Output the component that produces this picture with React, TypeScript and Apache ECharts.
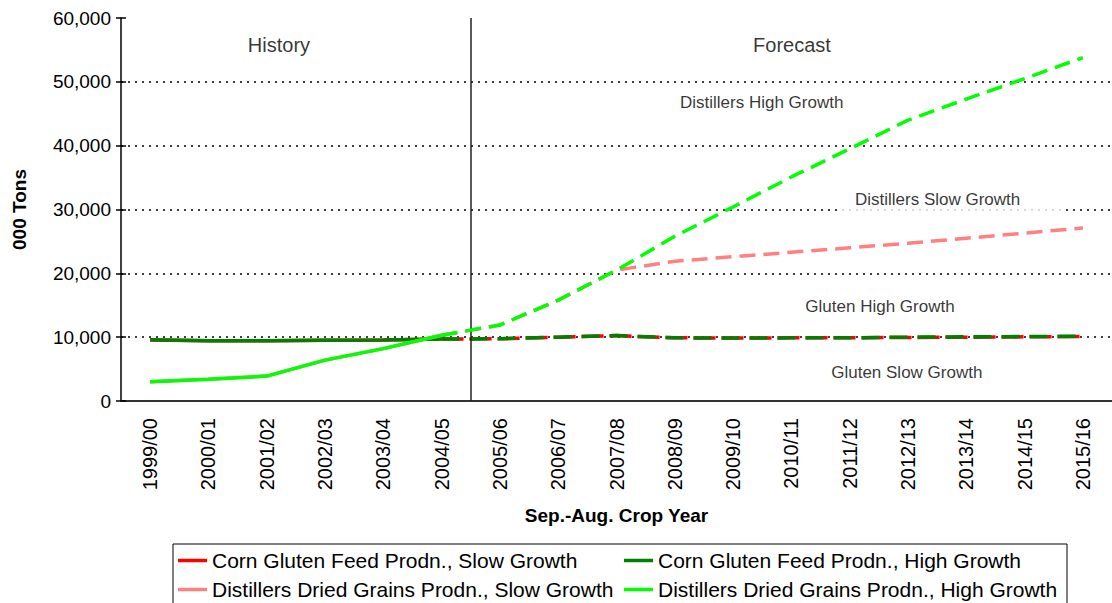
import React, { useEffect, useRef } from "react";
import * as echarts from "echarts";

const categories = [
  "1999/00", "2000/01", "2001/02", "2002/03", "2003/04", "2004/05",
  "2005/06", "2006/07", "2007/08", "2008/09", "2009/10", "2010/11",
  "2011/12", "2012/13", "2013/14", "2014/15", "2015/16",
];

// History: 1999/00 .. 2004/05
const cornSlowHistory = [9550, 9450, 9450, 9500, 9550, 9700];
const cornHighHistory = [9600, 9450, 9450, 9500, 9550, 9700];
const ddgSlowHistory = [3000, 3400, 3900, 6400, 8200, 10300];
const ddgHighHistory = [3000, 3400, 3900, 6400, 8200, 10300];

// Forecast: 2004/05 .. 2015/16
const cornSlowForecast = [9700, 9750, 10000, 10250, 9900, 9850, 9900, 9900, 9950, 10000, 10050, 10100];
const cornHighForecast = [9700, 9750, 10000, 10250, 9900, 9850, 9900, 9900, 10000, 10050, 10100, 10150];
const ddgSlowForecast = [10300, 11900, 15800, 20500, 21900, 22600, 23300, 24000, 24700, 25500, 26300, 27100];
const ddgHighForecast = [10300, 11900, 15800, 20500, 25800, 30400, 35100, 39500, 44000, 47300, 50500, 53800];

const seriesNames = [
  "Corn Gluten Feed Prodn., Slow Growth",
  "Corn Gluten Feed Prodn., High Growth",
  "Distillers Dried Grains Prodn., Slow Growth",
  "Distillers Dried Grains Prodn., High Growth",
];
const seriesColors = ["#FF0000", "#008000", "#FF8080", "#00FF00"];

const yTicks = [0, 10000, 20000, 30000, 40000, 50000, 60000];

// annotations: [category index position, value, text]
const annotations: [number, number, string][] = [
  [2.21, 55700, "History"],
  [11.01, 55700, "Forecast"],
  [10.49, 46840, "Distillers High Growth"],
  [13.74, 31640, "Distillers Slow Growth"],
  [12.52, 14730, "Gluten High Growth"],
  [12.98, 4390, "Gluten Slow Growth"],
];
const dividerPosition = 5.5;

const FONT = "'Liberation Sans', Arial, Helvetica, sans-serif";

function padHistory(arr: number[]): (number | null)[] {
  const out: (number | null)[] = categories.map(() => null);
  arr.forEach((v, i) => (out[i] = v));
  return out;
}
function padForecast(arr: number[]): (number | null)[] {
  const out: (number | null)[] = categories.map(() => null);
  const start = categories.length - arr.length;
  arr.forEach((v, i) => (out[start + i] = v));
  return out;
}

export default function App() {
  const ref = useRef<HTMLDivElement>(null);
  useEffect(() => {
    if (!ref.current) return;
    const chart = echarts.init(ref.current, undefined, { renderer: "svg" });
    const hist = [cornSlowHistory, cornHighHistory, ddgSlowHistory, ddgHighHistory];
    const fore = [cornSlowForecast, cornHighForecast, ddgSlowForecast, ddgHighForecast];
    const dashes: number[][] = [[22, 6], [18, 10], [16, 8], [16, 8]];
    const series: any[] = [];
    for (let k = 0; k < 4; k++) {
      series.push({
        name: seriesNames[k],
        type: "line",
        data: padHistory(hist[k]),
        symbol: "none",
        connectNulls: false,
        color: seriesColors[k],
        lineStyle: { color: seriesColors[k], width: 3.5, type: "solid" },
        z: 2 + k,
      });
    }
    for (let k = 0; k < 4; k++) {
      series.push({
        name: seriesNames[k],
        type: "line",
        data: padForecast(fore[k]),
        symbol: "none",
        color: seriesColors[k],
        lineStyle: { color: seriesColors[k], width: 3.5, type: dashes[k] },
        z: 2 + k,
      });
    }
    series.push({
      type: "scatter",
      xAxisIndex: 1,
      yAxisIndex: 0,
      silent: true,
      symbolSize: 1,
      itemStyle: { color: "rgba(0,0,0,0)" },
      z: 10,
      data: annotations.map(([x, y, t]) => {
        const item: any = { value: [x, y], name: t };
        if (t === "Distillers Slow Growth") {
          item.label = { backgroundColor: "#FFFFFF", padding: [6, 44, 9, 17] };
        }
        if (t === "History" || t === "Forecast") {
          item.label = { fontSize: 20 };
        }
        return item;
      }),
      label: {
        show: true,
        position: "inside",
        formatter: (p: any) => p.name,
        color: "#000",
        fontSize: 17,
        fontFamily: FONT,
      },
      markLine: {
        silent: true,
        symbol: "none",
        label: { show: false },
        lineStyle: { color: "#222", width: 1.5, type: "solid" },
        data: [{ xAxis: dividerPosition }],
      },
    });

    chart.setOption({
      animation: false,
      backgroundColor: "#FFFFFF",
      textStyle: { fontFamily: FONT },
      grid: { left: 121, top: 18, width: 998, height: 383, containLabel: false },
      xAxis: [
        {
          type: "category",
          data: categories,
          boundaryGap: true,
          name: "Sep.-Aug. Crop Year",
          nameLocation: "middle",
          nameGap: 105,
          nameTextStyle: { fontSize: 19, fontWeight: "bold", color: "#000", fontFamily: FONT },
          axisLine: { lineStyle: { color: "#333", width: 2 } },
          axisTick: { show: false },
          axisLabel: { rotate: 90, margin: 17, fontSize: 20, color: "#000", fontFamily: FONT },
          splitLine: { show: false },
        },
        {
          type: "value",
          min: -0.5,
          max: categories.length - 0.5,
          show: false,
        },
      ],
      yAxis: [
        {
          type: "value",
          min: yTicks[0],
          max: yTicks[yTicks.length - 1],
          interval: yTicks[1] - yTicks[0],
          name: "000 Tons",
          nameLocation: "middle",
          nameGap: 92,
          nameRotate: 90,
          nameTextStyle: { fontSize: 19, fontWeight: "bold", color: "#000", fontFamily: FONT },
          axisLine: { show: true, onZero: false, lineStyle: { color: "#000", width: 1.5 } },
          axisTick: { show: true, length: 5, lineStyle: { color: "#000", width: 1.5 } },
          axisLabel: {
            fontSize: 19,
            color: "#000",
            margin: 10,
            fontFamily: FONT,
            formatter: (v: number) => v.toLocaleString("en-US"),
          },
          splitLine: {
            show: true,
            showMinLine: false,
            showMaxLine: false,
            lineStyle: { color: "#000", width: 1.5, type: [2, 5] },
          },
        },
        {
          type: "value",
          position: "left",
          min: yTicks[0],
          max: yTicks[yTicks.length - 1],
          interval: yTicks[1] - yTicks[0],
          axisLine: { show: false, onZero: false },
          axisTick: { show: true, inside: true, length: 5, lineStyle: { color: "#000", width: 1.5 } },
          axisLabel: { show: false },
          splitLine: { show: false },
        },
      ],
      legend: {
        data: seriesNames,
        left: 173,
        top: 544,
        orient: "horizontal",
        padding: [6, 5, 6, 5],
        itemGap: 8,
        itemWidth: 29,
        itemHeight: 3.5,
        icon: "rect",
        borderColor: "#000",
        borderWidth: 1,
        textStyle: { fontSize: 21, color: "#000", fontFamily: FONT, width: 404, lineHeight: 21 },
      },
      series,
    });
    return () => chart.dispose();
  }, []);
  return (
    <div
      ref={ref}
      style={{ position: "fixed", left: 0, top: 0, width: 1112, height: 603, background: "#fff" }}
    />
  );
}
